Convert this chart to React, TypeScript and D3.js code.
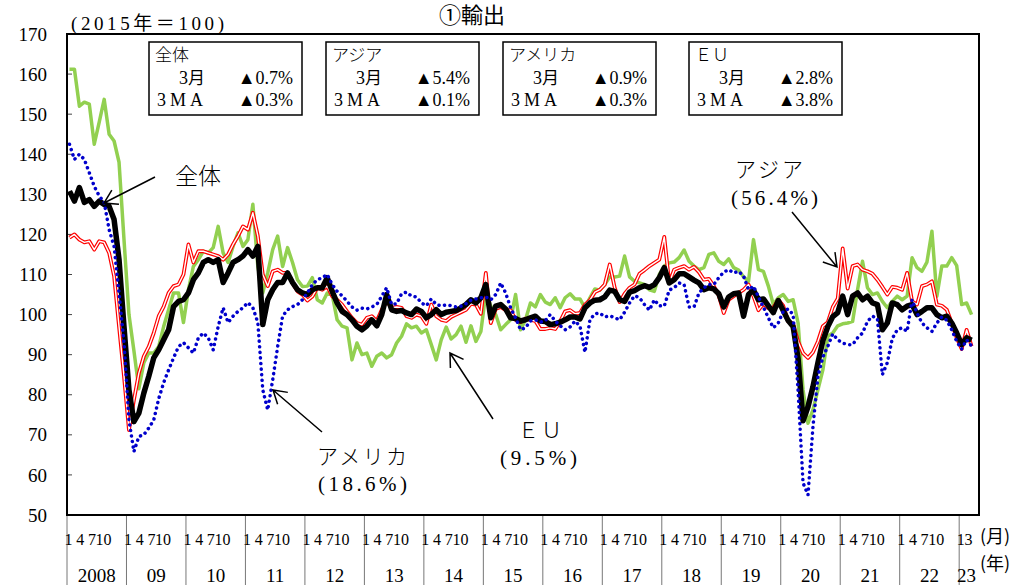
import * as d3 from "d3";

// 2008/1 .. 2023/3, 2015 = 100
const years = ["2008", "09", "10", "11", "12", "13", "14", "15", "16", "17", "18", "19", "20", "21", "22", "23"];
const monthTicks = [1, 4, 7, 10];
const lastYearTicks = [1, 3];
const yTicks = d3.range(50, 171, 10);

const total = [
  130.8, 128.3, 131.7, 128.0, 128.7, 127.0, 128.3, 127.5, 127.0, 123.7,
  113.7, 97.0, 81.2, 73.3, 75.4, 80.4, 84.6, 89.2, 91.2, 93.7,
  96.2, 102.0, 103.3, 103.7, 105.4, 108.7, 110.4, 113.0, 113.7, 113.0,
  113.7, 108.0, 110.4, 113.0, 113.7, 114.6, 116.2, 114.6, 117.0, 97.5,
  103.7, 106.2, 108.0, 108.0, 110.4, 108.0, 106.2, 105.4, 105.0, 106.2,
  106.7, 106.7, 109.2, 105.8, 102.9, 100.8, 100.0, 98.7, 97.1, 96.2,
  97.2, 98.7, 97.2, 100.0, 105.0, 101.2, 100.8, 101.0, 100.4, 100.0,
  101.4, 100.8, 99.2, 100.0, 101.2, 100.0, 100.6, 100.8, 101.0, 101.7,
  102.5, 103.7, 102.9, 104.2, 107.5, 99.2, 102.1, 102.5, 101.4, 99.2,
  99.0, 98.4, 98.7, 99.2, 99.6, 98.4, 98.3, 97.5, 97.7, 98.1,
  98.7, 99.4, 99.4, 98.9, 101.7, 102.9, 103.6, 103.7, 104.4, 106.1,
  105.8, 103.7, 103.3, 105.6, 106.0, 106.7, 107.2, 106.8, 107.5, 109.2,
  111.7, 107.9, 108.7, 110.2, 110.2, 109.4, 108.6, 107.9, 106.2, 106.7,
  106.4, 105.2, 101.9, 104.4, 105.2, 105.4, 99.6, 105.0, 106.1, 103.7,
  103.9, 102.2, 100.5, 103.5, 101.0, 98.5, 97.0, 89.0, 73.5, 77.0,
  82.0, 88.0, 93.5, 97.0, 99.5, 100.5, 104.6, 100.0, 104.6, 105.4,
  103.7, 104.6, 102.9, 102.5, 96.2, 97.9, 102.9, 102.5, 101.2, 102.1,
  102.5, 100.0, 100.8, 101.7, 101.7, 100.0, 99.2, 99.6, 97.9, 95.4,
  92.5, 94.2, 93.6,
];

const asia = [
  119.2, 120.0, 118.7, 118.0, 118.3, 116.2, 118.3, 118.0, 115.4, 109.6,
  97.0, 84.6, 71.2, 78.7, 85.4, 89.6, 92.0, 95.4, 99.6, 102.0,
  105.4, 107.1, 107.5, 110.0, 117.5, 113.0, 115.8, 115.8, 115.4, 115.0,
  114.6, 113.7, 115.0, 117.5, 119.6, 122.0, 121.2, 125.4, 119.6, 110.0,
  107.1, 110.8, 111.2, 110.4, 110.4, 107.9, 105.8, 105.0, 103.5, 104.5,
  106.7, 106.2, 107.1, 104.6, 103.7, 102.5, 100.8, 99.2, 97.9, 97.5,
  99.2, 99.6, 98.4, 101.2, 103.3, 101.7, 101.9, 101.7, 99.6, 99.2,
  100.0, 99.6, 97.7, 102.5, 99.6, 98.7, 98.4, 99.4, 100.0, 100.6,
  101.2, 102.7, 102.5, 100.2, 110.4, 97.9, 101.4, 101.9, 101.1, 101.1,
  98.7, 98.1, 99.0, 98.7, 98.4, 96.4, 96.4, 96.7, 96.4, 98.3,
  100.8, 101.1, 100.2, 100.4, 102.5, 103.6, 105.6, 106.2, 107.5, 112.5,
  106.7, 103.1, 105.2, 106.7, 107.5, 110.2, 111.1, 112.1, 112.9, 113.7,
  119.4, 107.9, 111.2, 111.7, 112.1, 111.2, 111.9, 110.6, 108.7, 108.9,
  107.1, 104.7, 100.4, 103.7, 104.6, 105.4, 106.2, 107.5, 104.6, 101.1,
  102.7, 101.6, 101.7, 103.7, 102.2, 98.3, 97.7, 93.3, 90.4, 89.2,
  90.6, 93.3, 97.1, 98.1, 101.9, 104.0, 116.5, 106.5, 112.1, 112.5,
  111.2, 110.8, 110.2, 108.7, 106.9, 105.0, 106.9, 106.7, 106.2, 110.4,
  103.3, 102.5, 107.1, 107.5, 108.3, 102.5, 102.2, 101.2, 97.9, 94.2,
  91.4, 96.2, 92.1,
];

const usa = [
  142.5, 138.7, 140.0, 138.7, 135.4, 132.0, 129.6, 128.0, 121.2, 117.0,
  105.4, 93.0, 73.7, 65.8, 69.6, 70.0, 71.7, 73.7, 79.0, 83.0,
  86.2, 89.2, 92.0, 93.0, 91.7, 90.4, 94.2, 95.4, 94.2, 91.2,
  97.0, 101.7, 98.0, 99.6, 100.8, 101.7, 103.0, 101.7, 98.0, 81.2,
  76.2, 83.7, 92.0, 99.6, 101.2, 102.0, 102.5, 103.7, 105.4, 107.5,
  108.7, 109.2, 110.0, 107.5, 105.8, 104.7, 103.3, 101.9, 101.1, 101.6,
  101.4, 101.9, 102.5, 104.6, 106.7, 102.5, 102.7, 105.2, 105.6, 104.6,
  104.4, 102.9, 102.2, 103.9, 102.5, 102.2, 102.4, 102.2, 101.9, 102.1,
  102.7, 103.6, 103.9, 104.2, 104.4, 103.7, 105.0, 107.9, 105.4, 101.7,
  99.2, 96.2, 96.7, 98.4, 98.7, 98.1, 98.5, 100.0, 98.4, 97.2,
  96.2, 96.9, 98.4, 97.1, 90.6, 98.7, 100.2, 100.4, 99.4, 99.7,
  99.2, 98.7, 100.6, 102.9, 104.7, 104.2, 102.5, 101.1, 103.7, 102.2,
  102.1, 106.1, 106.7, 107.9, 107.5, 101.9, 101.9, 105.4, 106.7, 107.5,
  107.5, 109.2, 110.6, 111.2, 110.4, 110.8, 109.6, 106.2, 107.1, 104.4,
  101.9, 99.2, 96.7, 97.9, 100.8, 101.4, 100.0, 81.0, 58.0, 55.0,
  72.0, 84.6, 89.4, 92.1, 95.2, 93.7, 92.9, 92.5, 92.5, 94.2,
  95.4, 98.3, 99.6, 99.0, 85.0, 88.0, 94.0, 96.2, 96.7, 95.8,
  103.7, 100.4, 97.9, 96.7, 95.8, 97.9, 99.4, 98.6, 96.2, 93.3,
  91.4, 93.7, 92.2,
];

const eu = [
  161.2, 161.2, 152.0, 153.0, 152.5, 142.5, 148.0, 153.7, 145.0, 143.3,
  138.0, 118.7, 100.0, 91.0, 81.5, 88.0, 90.4, 90.4, 92.0, 97.0,
  101.2, 105.4, 105.4, 98.0, 106.2, 112.0, 113.7, 115.8, 115.4, 116.7,
  122.0, 115.4, 113.0, 117.0, 120.4, 117.0, 118.7, 127.5, 112.0, 105.4,
  110.4, 116.2, 119.6, 112.0, 116.7, 113.0, 108.7, 107.0, 107.1, 109.2,
  103.7, 102.9, 105.4, 105.0, 98.7, 97.1, 96.7, 88.7, 92.9, 90.0,
  90.4, 87.1, 89.6, 90.4, 89.2, 90.0, 92.9, 94.6, 97.7, 96.7,
  97.1, 95.4, 96.2, 92.5, 88.7, 93.7, 96.9, 93.9, 95.0, 97.1,
  93.1, 97.2, 93.3, 95.8, 105.4, 102.1, 100.0, 96.2, 97.5, 98.7,
  105.0, 96.2, 98.7, 102.9, 101.9, 105.0, 103.1, 102.5, 104.2, 101.7,
  104.2, 105.2, 103.9, 103.9, 101.7, 104.2, 106.4, 106.1, 107.5, 109.4,
  109.4, 109.6, 114.6, 109.4, 108.3, 107.9, 107.5, 106.2, 105.8, 110.0,
  112.1, 112.9, 113.1, 114.2, 116.1, 113.3, 112.1, 111.2, 111.7, 115.0,
  115.4, 113.3, 112.5, 113.9, 111.7, 111.1, 109.4, 108.3, 118.7, 111.2,
  110.8, 107.1, 102.5, 104.2, 105.0, 103.3, 103.7, 97.9, 81.2, 72.9,
  76.2, 81.2, 86.2, 94.6, 95.4, 97.2, 97.7, 97.9, 98.3, 106.2,
  113.3, 106.7, 105.0, 105.4, 103.3, 101.7, 103.3, 104.6, 103.7, 104.6,
  114.2, 111.7, 110.8, 113.1, 120.8, 104.6, 112.1, 112.1, 114.2, 112.2,
  102.5, 102.9, 100.0,
];

const boxNames = ["全体", "アジア", "アメリカ", "ＥＵ"];
const boxMonth = ["▲0.7%", "▲5.4%", "▲0.9%", "▲2.8%"];
const boxMA = ["▲0.3%", "▲0.1%", "▲0.3%", "▲3.8%"];

const W = 1021;
const H = 585;
const left = 67, right = 979, top = 34, bottom = 515;
const serif = "'Liberation Serif', 'DejaVu Serif', 'Noto Sans CJK JP', serif";
const jp = "'Noto Sans CJK JP', sans-serif";

// open arrow: shaft + two barbs at the tip
function arrow(x1: number, y1: number, x2: number, y2: number, len = 15) {
  const a = Math.atan2(y1 - y2, x1 - x2);
  const s = 0.55;
  const b1 = [x2 + len * Math.cos(a + s), y2 + len * Math.sin(a + s)];
  const b2 = [x2 + len * Math.cos(a - s), y2 + len * Math.sin(a - s)];
  return `M${x1},${y1}L${x2},${y2}M${b1[0]},${b1[1]}L${x2},${y2}L${b2[0]},${b2[1]}`;
}

export default function App() {
  const nBands = years.length * 12 - 8; // through 2023/4
  const x = d3.scaleBand<number>().domain(d3.range(nBands)).range([left, right]);
  const bw = x.bandwidth();
  const y = d3.scaleLinear().domain([50, 170]).range([bottom, top]);
  const px = (i: number) => (x(i) as number) + bw / 2;

  const line = d3
    .line<number>()
    .x((_, i) => px(i))
    .y((d) => y(d));

  const yearStart = (k: number) => x(k * 12) as number;

  return (
    <svg
      width={W}
      height={H}
      style={{ position: "absolute", left: 0, top: 0, background: "#fff" }}
      fontFamily={serif}
    >
      <rect x={0} y={0} width={W} height={H} fill="#fff" />

      {/* title */}
      <text x={472} y={23} fontSize={22} fontFamily={jp} textAnchor="middle">
        ①輸出
      </text>
      <text x={71} y={30} fontSize={19} textLength={153} lengthAdjust="spacing">
        (2015年＝100)
      </text>

      {/* y axis */}
      {yTicks.map((t) => (
        <g key={t}>
          <line x1={left} x2={left + 5} y1={y(t)} y2={y(t)} stroke="#444" strokeWidth={1} />
          <text x={47} y={y(t)} dy="0.35em" fontSize={19} textAnchor="end">
            {t}
          </text>
        </g>
      ))}

      {/* x axis: year separators and labels */}
      {years.map((yr, k) => {
        const x0 = yearStart(k);
        const months = k === years.length - 1 ? 3 : 12;
        const ticks = k === years.length - 1 ? lastYearTicks : monthTicks;
        return (
          <g key={yr}>
            <line x1={x0} x2={x0} y1={bottom} y2={H} stroke="#777" strokeWidth={1} />
            {ticks.map((m) => (
              <text key={m} x={x0 + 1.5 + (m - 1) * 3.9} y={545} fontSize={16} textAnchor="middle">
                {m}
              </text>
            ))}
            <text x={x0 + (months * bw) / 2} y={582} fontSize={19} textAnchor="middle">
              {yr}
            </text>
          </g>
        );
      })}
      <text x={980} y={543} fontSize={18} fontFamily={jp}>
        (月)
      </text>
      <text x={980} y={570} fontSize={18} fontFamily={jp}>
        (年)
      </text>

      {/* series */}
      <g fill="none" strokeLinejoin="round">
        <path d={line(eu) ?? ""} stroke="#92d050" strokeWidth={3.5} />
        <path d={line(asia) ?? ""} stroke="#ff0000" strokeWidth={3.8} />
        <path d={line(asia) ?? ""} stroke="#ffffff" strokeWidth={1.4} />
        <path d={line(total) ?? ""} stroke="#000" strokeWidth={5.5} />
        <path
          d={line(usa) ?? ""}
          stroke="#0000cc"
          strokeWidth={3.5}
          strokeDasharray="0.1 5.5"
          strokeLinecap="round"
        />
      </g>

      {/* frame */}
      <rect x={left} y={top} width={right - left} height={bottom - top} fill="none" stroke="#000" strokeWidth={2} />

      {/* legend boxes */}
      {boxNames.map((name, k) => {
        const bx = [149, 326, 503, 689][k];
        return (
          <g key={name}>
            <rect x={bx} y={42} width={153} height={73} fill="#fff" stroke="#000" strokeWidth={1.5} />
            <text x={bx + 6} y={61} fontSize={17} fontFamily={jp} fontWeight={300}>
              {name}
            </text>
            <text x={bx + 56} y={84} fontSize={18} textAnchor="end">
              3<tspan fontFamily={jp} fontSize={17}>月</tspan>
            </text>
            <text x={bx + 144} y={84} fontSize={18} textAnchor="end">
              {boxMonth[k]}
            </text>
            <text x={bx + 8} y={106} fontSize={18} textLength={46} lengthAdjust="spacing">
              3MA
            </text>
            <text x={bx + 144} y={106} fontSize={18} textAnchor="end">
              {boxMA[k]}
            </text>
          </g>
        );
      })}

      {/* annotations */}
      <g fontSize={21}>
        <text x={175} y={184} fontSize={23} fontFamily={jp} fontWeight={300}>全体</text>
        <text x={735} y={177} fontFamily={jp} fontWeight={300} textLength={68} lengthAdjust="spacing">アジア</text>
        <text x={731} y={205} textLength={87} lengthAdjust="spacing">(56.4%)</text>
        <text x={317} y={464} fontFamily={jp} fontWeight={300} textLength={90} lengthAdjust="spacing">アメリカ</text>
        <text x={318} y={491} textLength={89} lengthAdjust="spacing">(18.6%)</text>
        <text x={518} y={438} fontFamily={jp} fontWeight={300} textLength={44} lengthAdjust="spacing">ＥＵ</text>
        <text x={500} y={465} textLength={77} lengthAdjust="spacing">(9.5%)</text>
      </g>
      <g fill="none" stroke="#000" strokeWidth={1.5}>
        <path d={arrow(155, 177, 104, 203)} />
        <path d={arrow(792, 212, 837, 267)} />
        <path d={arrow(322, 432, 273, 390)} />
        <path d={arrow(493, 419, 450, 353)} />
      </g>
    </svg>
  );
}
